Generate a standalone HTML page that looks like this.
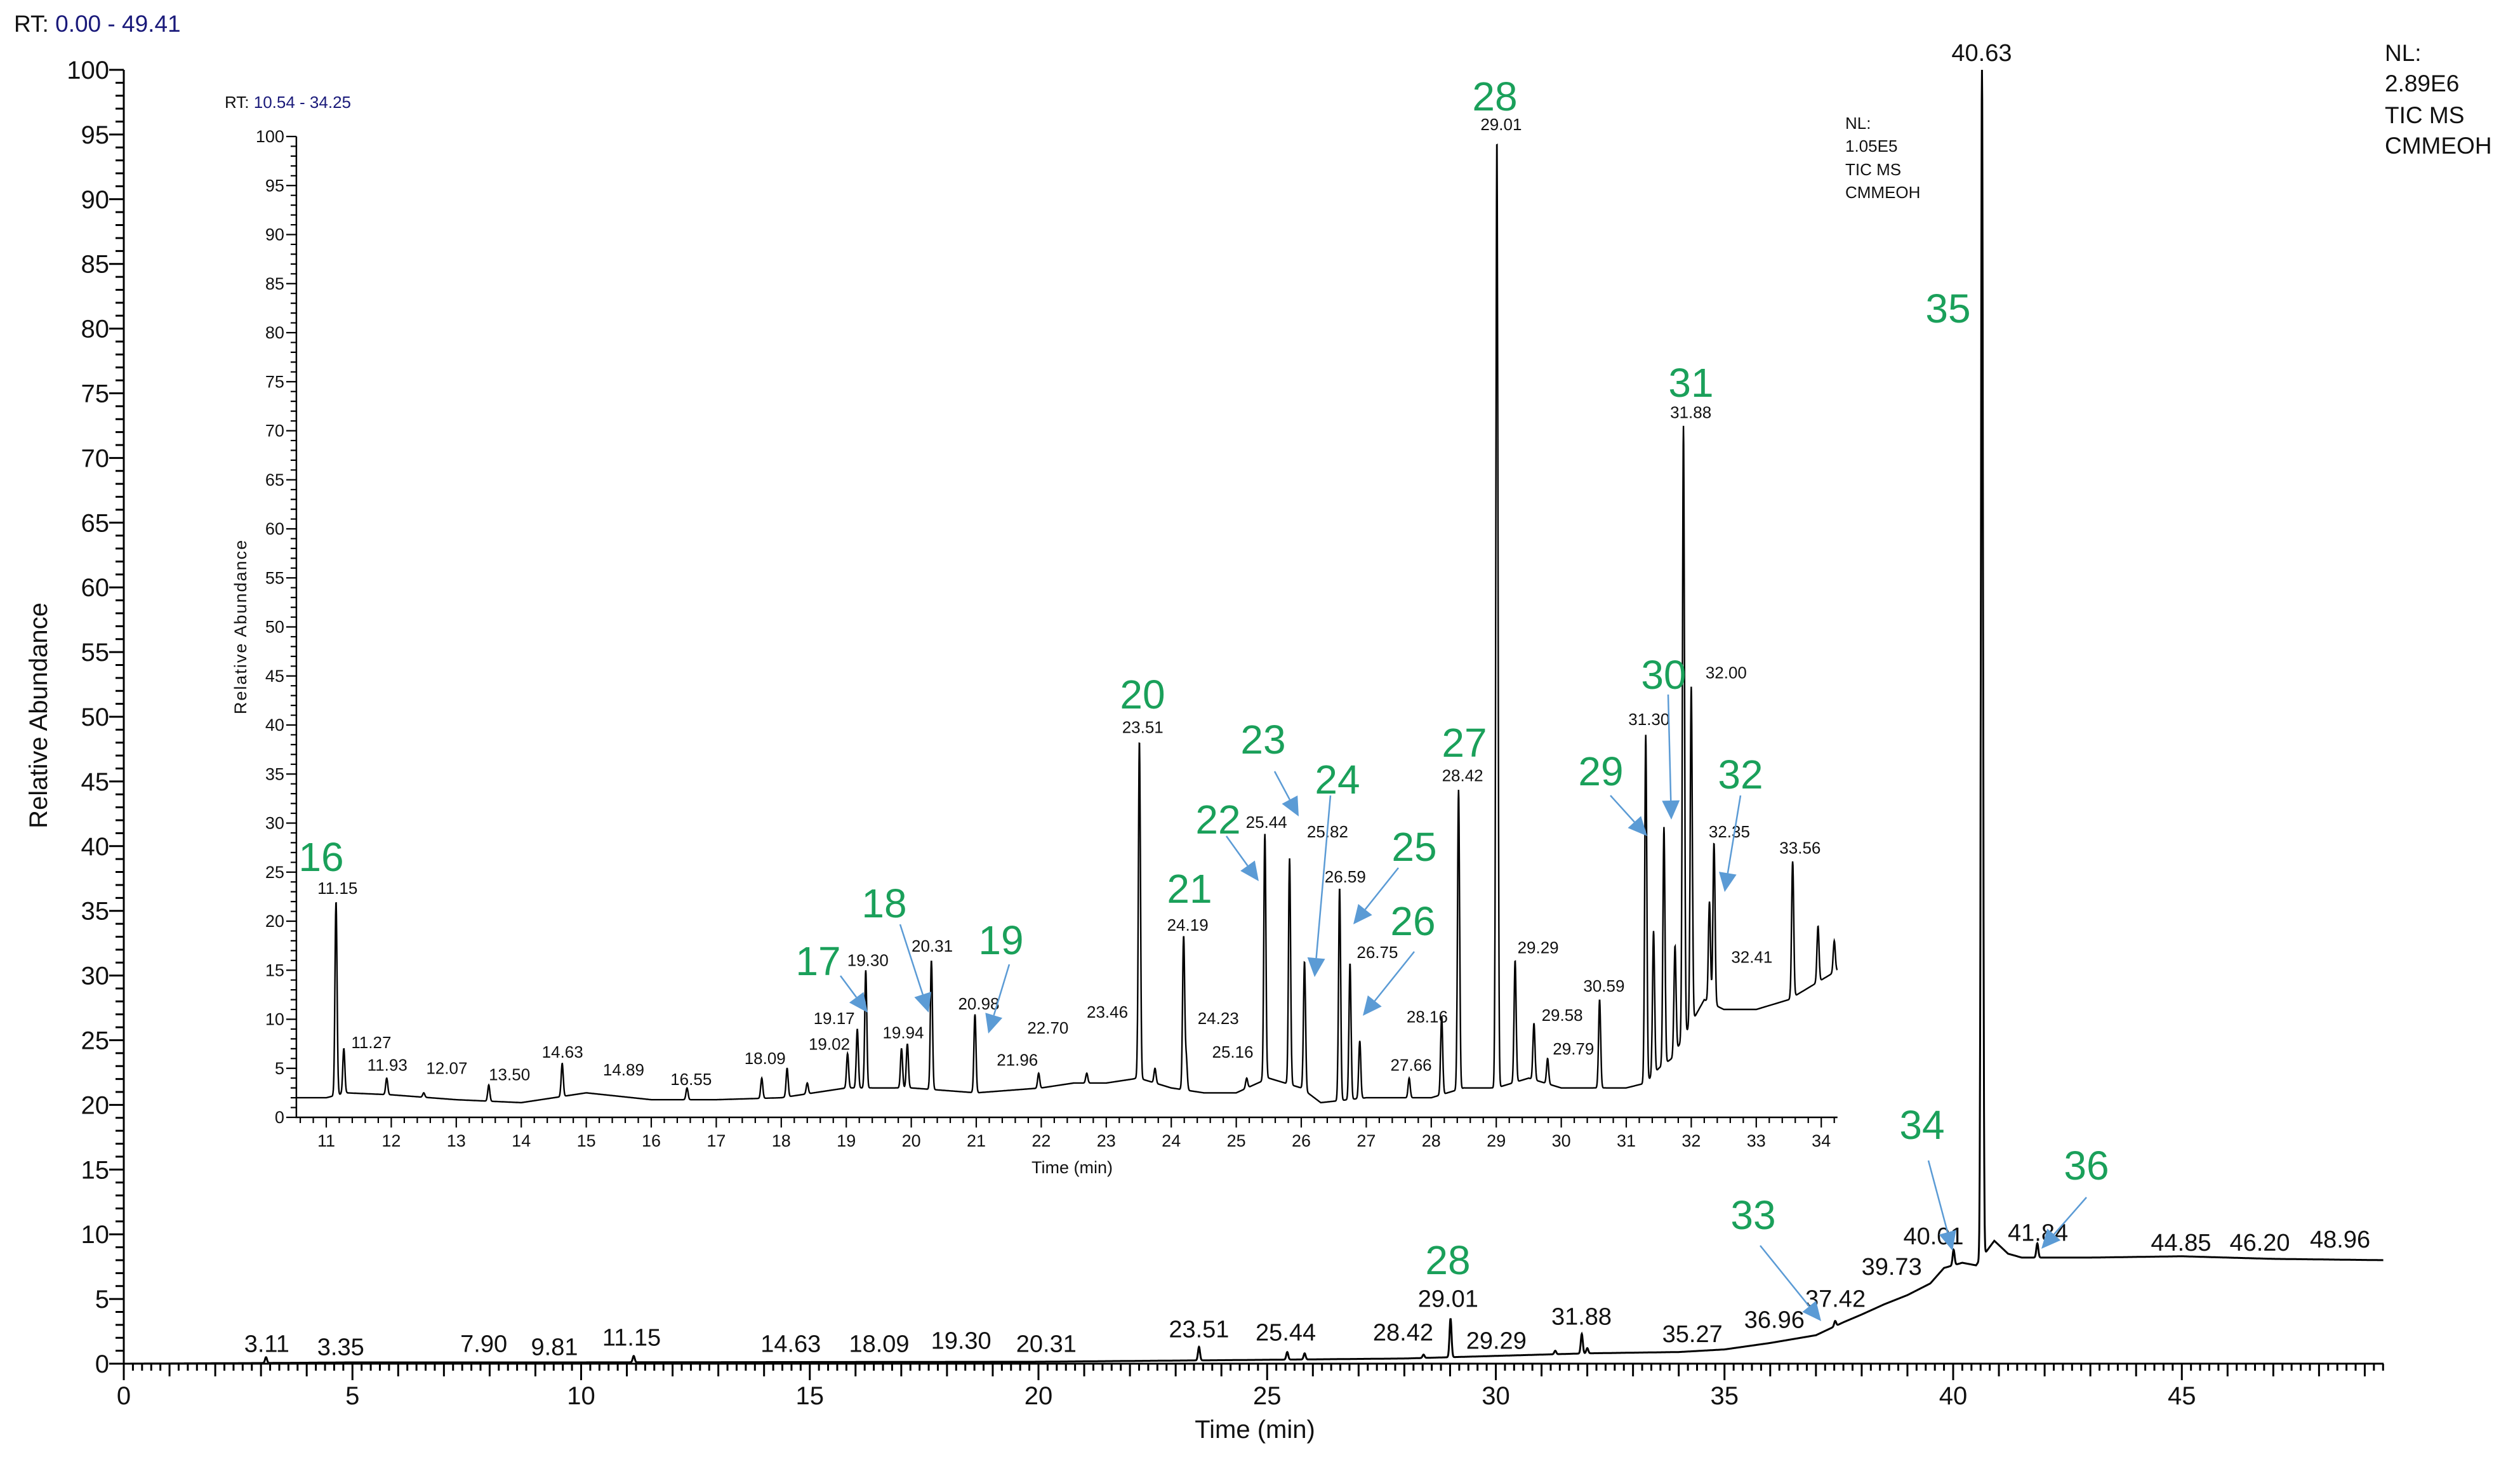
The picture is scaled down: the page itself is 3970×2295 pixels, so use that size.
<!DOCTYPE html>
<html><head><meta charset="utf-8"><style>
html,body{margin:0;padding:0;background:#fff}
svg{display:block;font-family:"Liberation Sans",Arial,sans-serif}
</style></head><body>
<svg id="chart" width="3970" height="2295" viewBox="0 0 3970 2295" xmlns="http://www.w3.org/2000/svg">
<rect width="3970" height="2295" fill="#fff"/>
<g id="main"></g>
<g id="inset"></g>
<g id="ann"></g>
<text x="22" y="50" font-size="37" fill="#111">RT: <tspan fill="#1a1a7a">0.00 - 49.41</tspan></text>
<text x="354" y="170" font-size="26" fill="#111">RT: <tspan fill="#1a1a7a">10.54 - 34.25</tspan></text>
<g font-size="37" fill="#111">
<text x="3757" y="96">NL:</text><text x="3757" y="144">2.89E6</text><text x="3757" y="194">TIC  MS</text><text x="3757" y="242">CMMEOH</text></g>
<g font-size="26" fill="#111">
<text x="2907" y="203">NL:</text><text x="2907" y="239">1.05E5</text><text x="2907" y="276">TIC  MS</text><text x="2907" y="312">CMMEOH</text></g>
<text transform="translate(74,1127) rotate(-90)" text-anchor="middle" font-size="40" fill="#111">Relative Abundance</text>
<text x="1977" y="2265" text-anchor="middle" font-size="40" fill="#111">Time (min)</text>
<text transform="translate(388,987) rotate(-90)" text-anchor="middle" font-size="27" fill="#111" letter-spacing="2">Relative Abundance</text>
<text x="1689" y="1848" text-anchor="middle" font-size="27" fill="#111">Time (min)</text>
</svg>
<script>
// ---- main chromatogram data ----
const mainBaseT=[0,3,5,10,20,25,28,30,32,34,35,36,37,37.6,38,38.5,39,39.5,39.8,40.2,40.5,40.9,41.2,41.5,43,45,47,49.41];
const mainBaseV=[0,0.05,0.1,0.1,0.15,0.3,0.4,0.6,0.8,0.9,1.1,1.6,2.2,3.2,3.8,4.6,5.3,6.2,7.4,7.8,7.6,9.5,8.5,8.2,8.2,8.3,8.1,8.0];
const mainPeakT=[3.11,11.15,23.51,25.44,25.82,28.42,29.01,31.30,31.88,32.00,37.42,40.01,40.63,41.84];
const mainPeakV=[0.5,0.6,1.3,0.9,0.8,0.7,3.5,1.0,2.3,1.2,3.3,8.8,100,9.3];
const mainLabels=["3.11","3.35","7.90","9.81","11.15","14.63","18.09","19.30","20.31","23.51","25.44","28.42","29.01","29.29","31.88","35.27","36.96","37.42","39.73","40.01","40.63","41.84","44.85","46.20","48.96"];
const mainTicksX=[0,5,10,15,20,25,30,35,40,45];
const mainTicksY=[0,5,10,15,20,25,30,35,40,45,50,55,60,65,70,75,80,85,90,95,100];
// ---- inset chromatogram data ----
const insBaseT=[10.54,11,11.3,12,13,14,14.5,15,16,17,18,19,20,21,22,22.5,23,23.5,24,24.5,25,25.5,26,26.3,27,28,28.5,29,29.5,30,31,31.3,31.5,31.7,32.2,32.5,33,33.5,34,34.25];
const insBaseV=[2,2,2.5,2.3,1.8,1.5,2,2.5,1.8,1.8,2,3,3,2.5,3,3.5,3.5,4,3,2.5,2.5,4,3,1.5,2,2,3,3,4,3,3,3.5,5,6,12,11,11,12,14,15];
const insPeakT=[11.15,11.27,11.93,12.5,13.50,14.63,16.55,17.7,18.09,18.4,19.02,19.17,19.30,19.85,19.94,20.31,20.98,21.96,22.70,23.46,23.51,23.75,24.19,24.23,25.16,25.44,25.82,26.05,26.59,26.75,26.9,27.66,28.16,28.42,29.01,29.29,29.58,29.79,30.59,31.30,31.42,31.58,31.75,31.88,32.00,32.28,32.35,33.56,33.95,34.2];
const insPeakV=[22,7,4,2.5,3.3,5.5,3,4,5,3.5,6.5,9,15,7,7.5,16,10.5,4.5,4.5,4,38.4,5,18.4,6,4,28.9,26.4,15.9,23.4,15.7,7.8,4,10.3,33.4,99.9,16,9.6,6,12,39,19,29.6,17.5,70.5,43.9,22,28,26.1,19.5,18];
const insLabels=["11.15","11.27","11.93","12.07","13.50","14.63","14.89","16.55","18.09","19.02","19.17","19.30","19.94","20.31","20.98","21.96","22.70","23.46","23.51","24.19","24.23","25.16","25.44","25.82","26.59","26.75","27.66","28.16","28.42","29.01","29.29","29.58","29.79","30.59","31.30","31.88","32.00","32.35","32.41","33.56"];
const insTicksX=[11,12,13,14,15,16,17,18,19,20,21,22,23,24,25,26,27,28,29,30,31,32,33,34];
const insTicksY=[0,5,10,15,20,25,30,35,40,45,50,55,60,65,70,75,80,85,90,95,100];

// ---- label layout (screen positions at 1/2.532 scale; layout only) ----
const mainLabelPos=[[166,835],[212,837],[301,835],[345,837],[393,831],[492,835],[547,835],[598,833],[651,835],[746,826],[800,828],[873,828],[901,807],[931,833],[984,818],[1053,829],[1104,820],[1142,807],[1177,787],[1203,768],[1233,32],[1268,766],[1357,772],[1406,772],[1456,770]];
const insLabelPos=[[210,551],[231,647],[241,661],[278,663],[317,667],[350,653],[388,664],[430,670],[476,657],[516,648],[519,632],[540,596],[562,641],[580,587],[609,623],[633,658],[652,638],[689,628],[711,451],[739,574],[758,632],[767,653],[788,510],[826,516],[837,544],[857,591],[878,661],[888,631],[910,481],[934,76],[957,588],[972,630],[979,651],[998,612],[1026,446],[1052,255],[1074,417],[1076,516],[1090,594],[1120,526]];
const S=2.532;

const NS="http://www.w3.org/2000/svg";
function mk(tag,attrs,parent){const e=document.createElementNS(NS,tag);for(const k in attrs)e.setAttribute(k,attrs[k]);parent.appendChild(e);return e;}
const X=t=>195+t*72.05, Y=v=>2148-v*20.38;
const XI=t=>514+(t-11)*102.4, YI=v=>1760-v*15.45;
function interp(T,V,t){if(t<=T[0])return V[0];for(let i=1;i<T.length;i++){if(t<=T[i]){const f=(t-T[i-1])/(T[i]-T[i-1]);return V[i-1]+f*(V[i]-V[i-1]);}}return V[V.length-1];}
function trace(BT,BV,PT,PV,sig,t){let b=interp(BT,BV,t),y=b;for(let i=0;i<PT.length;i++){const d=(t-PT[i])/sig;if(Math.abs(d)<6){y+=Math.max(0,PV[i]-interp(BT,BV,PT[i]))*Math.exp(-d*d/2);}}return y;}

// ---------- MAIN ----------
const gm=document.getElementById('main');
const fm=t=>trace(mainBaseT,mainBaseV,mainPeakT,mainPeakV,0.022,t);
let d="";for(let t=0;t<=49.41;t+=0.005){d+=(d?"L":"M")+X(t).toFixed(1)+","+Y(fm(t)).toFixed(1);}
let p=mk('path',{d:d,fill:'none',stroke:'#000','stroke-width':3},gm);


let ax=mk('path',{d:`M195,${Y(100)}V2148H${X(49.41)}`,fill:'none',stroke:'#000','stroke-width':3},gm);


let tk="";
for(let i=0;i<=100;i++){tk+=`M${i%5==0?172:182},${Y(i)}H195`;}
for(let i=0;i<=247;i++){const t=i*0.2;if(t>49.41)break;const L=(i%25==0)?26:(i%5==0)?20:11;tk+=`M${X(t)},2148V${2148+L}`;}
let tp=mk('path',{d:tk,stroke:'#000','stroke-width':3},gm);


mainTicksY.forEach(v=>{const e=mk('text',{x:172,y:Y(v)+14,'text-anchor':'end','font-size':40,fill:'#111'},gm);e.textContent=v;

});
mainTicksX.forEach(v=>{const e=mk('text',{x:X(v),y:2212,'text-anchor':'middle','font-size':40,fill:'#111'},gm);e.textContent=v;

});
mainLabels.forEach((s,i)=>{const q=mainLabelPos[i];const e=mk('text',{x:q[0]*S,y:(q[1]+6)*S,'text-anchor':'middle','font-size':38,fill:'#111'},gm);e.textContent=s;

});

// ---------- INSET ----------
const gi=document.getElementById('inset');
const fi=t=>trace(insBaseT,insBaseV,insPeakT,insPeakV,0.016,t);
d="";for(let t=10.54;t<=34.25;t+=0.004){d+=(d?"L":"M")+XI(t).toFixed(1)+","+YI(fi(t)).toFixed(1);}
p=mk('path',{d:d,fill:'none',stroke:'#000','stroke-width':2.4},gi);


ax=mk('path',{d:`M${XI(10.54)},${YI(100)}V1760H${XI(34.25)}`,fill:'none',stroke:'#000','stroke-width':2.5},gi);


tk="";
for(let i=0;i<=100;i++){tk+=`M${XI(10.54)-(i%5==0?16:9)},${YI(i)}H${XI(10.54)}`;}
for(let i=53;i<=171;i++){const t=i*0.2;if(t<10.54||t>34.25)continue;const L=(i%5==0)?16:9;tk+=`M${XI(t)},1760V${1760+L}`;}
tp=mk('path',{d:tk,stroke:'#000','stroke-width':2.2},gi);


insTicksY.forEach(v=>{const e=mk('text',{x:XI(10.54)-19,y:YI(v)+9,'text-anchor':'end','font-size':27,fill:'#111'},gi);e.textContent=v;

});
insTicksX.forEach(v=>{const e=mk('text',{x:XI(v),y:1806,'text-anchor':'middle','font-size':27,fill:'#111'},gi);e.textContent=v;

});
insLabels.forEach((s,i)=>{const q=insLabelPos[i];const e=mk('text',{x:q[0]*S,y:(q[1]+5)*S,'text-anchor':'middle','font-size':26,fill:'#111'},gi);e.textContent=s;

});

// ---------- compound annotations (layout) ----------
const ga=document.getElementById('ann');
const nums=[["16",506,1350],["17",1289,1514],["18",1393,1423],["19",1577,1481],["20",1800,1094],["21",1874,1400],["22",1919,1291],["23",1990,1165],["24",2107,1228],["25",2228,1334],["26",2226,1451],["27",2307,1170],["28",2355,152],["29",2522,1215],["30",2621,1063],["31",2664,603],["32",2742,1220],["33",2762,1914],["34",3028,1772],["35",3069,486],["36",3287,1836],["28",2281,1985]];
nums.forEach(n=>{const e=mk('text',{x:n[1],y:n[2]+22,'text-anchor':'middle','font-size':64,fill:'#1aa05a'},ga);e.textContent=n[0];

});
const arrows=[[1324,1537,1367,1595],[1418,1456,1463,1595],[1590,1519,1557,1628],[1932,1317,1983,1388],[2008,1215,2046,1286],[2096,1253,2071,1539],[2203,1367,2132,1456],[2228,1499,2147,1600],[2537,1253,2595,1317],[2628,1094,2633,1291],[2742,1253,2717,1405],[2773,1962,2869,2081],[3038,1828,3076,1970],[3287,1886,3216,1967]];
arrows.forEach(a=>{const g=mk('g',{},ga);


const dx=a[2]-a[0],dy=a[3]-a[1],L=Math.hypot(dx,dy),ux=dx/L,uy=dy/L,hl=30,hw=14;
const bx=a[2]-ux*hl,by=a[3]-uy*hl;
mk('line',{x1:a[0],y1:a[1],x2:bx,y2:by,stroke:'#5b9bd5','stroke-width':2.5},g);
mk('polygon',{points:`${a[2]},${a[3]} ${bx-uy*hw},${by+ux*hw} ${bx+uy*hw},${by-ux*hw}`,fill:'#5b9bd5'},g);});
</script>
</body></html>
